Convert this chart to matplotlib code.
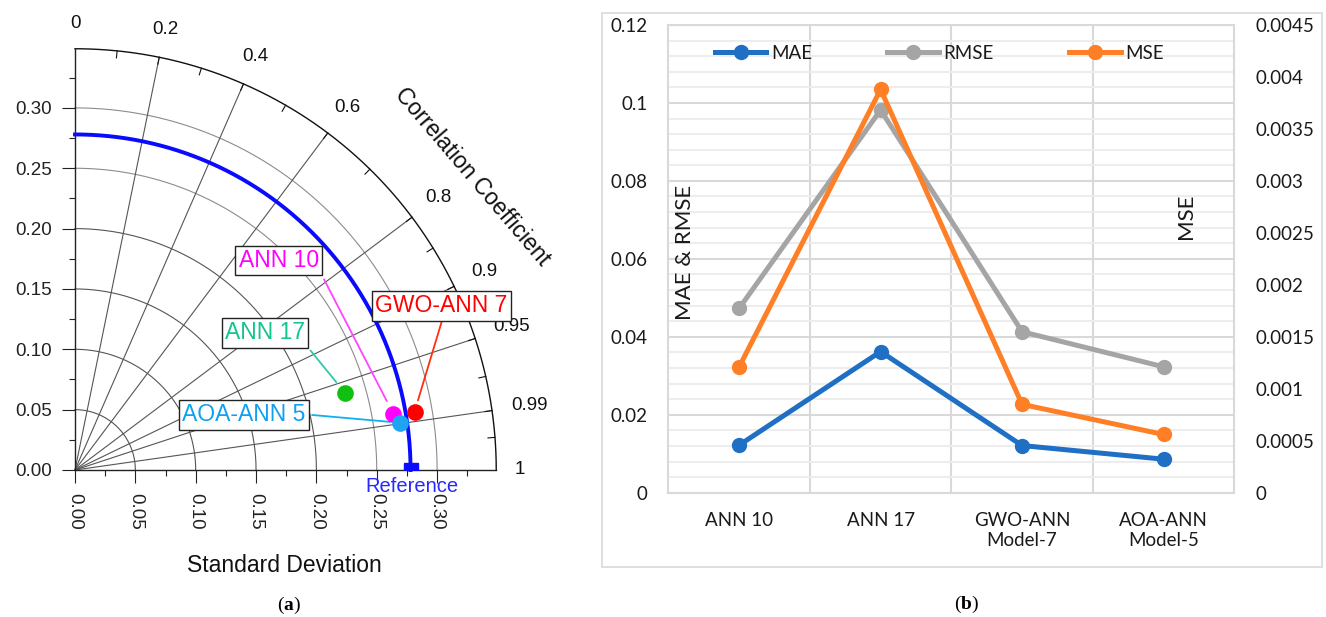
import numpy as np
import matplotlib
matplotlib.use('Agg')
import matplotlib.pyplot as plt
from matplotlib.patches import Rectangle
from matplotlib.ticker import MultipleLocator, FuncFormatter

# ---- data: Taylor diagram (a)
models = ['ANN 10', 'ANN 17', 'GWO-ANN 7', 'AOA-ANN 5']
model_std = [0.2679, 0.2329, 0.2854, 0.2721]
model_corr = [0.9849, 0.9622, 0.9856, 0.9896]
ref_std = 0.278
corr_labels = [0, 0.2, 0.4, 0.6, 0.8, 0.9, 0.95, 0.99, 1]
corr_grid = [0.2, 0.4, 0.6, 0.8, 0.9, 0.95, 0.99]
corr_minor = [0.1, 0.3, 0.5, 0.7, 0.85, 0.975, 0.997]
std_grid = [0.05, 0.10, 0.15, 0.20, 0.25, 0.30]

# ---- data: error metrics (b)
cats = ['ANN 10', 'ANN 17', 'GWO-ANN\nModel-7', 'AOA-ANN\nModel-5']
mae = [0.0122, 0.0362, 0.0121, 0.0086]
rmse = [0.0473, 0.0982, 0.0413, 0.0323]
mse = [0.00121, 0.00388, 0.00085, 0.00056]

W, H = 1326, 617
fig = plt.figure(figsize=(W / 100, H / 100), dpi=100)
plt.rcParams['mathtext.fontset'] = 'custom'
plt.rcParams['mathtext.bf'] = 'Liberation Serif:bold'


def px_box(x0, y0, w, h):
    # pixel box (top-left origin) -> figure fraction
    return [x0 / W, 1 - (y0 + h) / H, w / W, h / H]


# =================== (a) Taylor diagram ===================
SANS = 'Liberation Sans'
S = 1207.0          # pixels per std unit
R = 0.349           # outer radius
ox, oy = 75, 470    # origin in pixels
ax = fig.add_axes(px_box(ox, oy - R * S, R * S, R * S))
ax.set_xlim(0, R)
ax.set_ylim(0, R)
ax.patch.set_alpha(0)
for side in ['top', 'right']:
    ax.spines[side].set_visible(False)
for side in ['left', 'bottom']:
    ax.spines[side].set_linewidth(1.0)
    ax.spines[side].set_color('#222222')

ticks = np.arange(0, 0.301, 0.05)
ax.set_xticks(ticks)
ax.set_yticks(ticks)
ax.set_xticklabels([f'{t:.2f}' for t in ticks], rotation=-90, fontfamily=SANS)
ax.set_yticklabels([f'{t:.2f}' for t in ticks], fontfamily=SANS)
ax.xaxis.set_minor_locator(MultipleLocator(0.025))
ax.yaxis.set_minor_locator(MultipleLocator(0.025))
ax.tick_params(which='major', direction='out', length=9.5, width=0.8,
               labelsize=13.5, pad=7, colors='#222222')
ax.tick_params(which='minor', direction='out', length=4.5, width=0.8, colors='#222222')

theta = np.linspace(0, np.pi / 2, 300)
# std arcs
for s in std_grid:
    col = '#8c8c8c' if s > 0.22 else '#555555'
    ax.plot(s * np.cos(theta), s * np.sin(theta), color=col, lw=0.8, clip_on=False, zorder=1)
# correlation rays
for c in corr_grid:
    th = np.arccos(c)
    ax.plot([0, R * np.cos(th)], [0, R * np.sin(th)], color='#555555', lw=0.8,
            clip_on=False, zorder=1)
# outer arc
ax.plot(R * np.cos(theta), R * np.sin(theta), color='#111111', lw=1.0, clip_on=False, zorder=2)
# ticks on the outer arc
tl = 7 / S
for c in corr_grid + corr_minor:
    th = np.arccos(c)
    ax.plot([R * np.cos(th), (R - tl) * np.cos(th)], [R * np.sin(th), (R - tl) * np.sin(th)],
            color='#111111', lw=0.8, clip_on=False, zorder=2)
# correlation labels
for c in corr_labels:
    th = np.arccos(c)
    lab = f'{c:g}'
    wpx = 10.4 * sum(ch.isdigit() for ch in lab) + 5.2 * lab.count('.')
    ext = 0.5 * (wpx * abs(np.cos(th)) + 14 * abs(np.sin(th))) / S
    rr = 0.3645 + ext
    ax.text(rr * np.cos(th), rr * np.sin(th), lab, ha='center', va='center',
            fontsize=13.5, fontfamily=SANS, color='#111111', clip_on=False)

# reference std arc
ax.plot(ref_std * np.cos(theta), ref_std * np.sin(theta), color='#0a0aff', lw=2.8,
        clip_on=False, zorder=3)
ax.plot([ref_std], [0], marker='s', ms=9.5, color='#0a0aff', clip_on=True, zorder=4)
ax.text(ref_std + 0.0008, -0.0135, 'Reference', ha='center', va='center', fontsize=14.5,
        fontfamily=SANS, color='#2828ff', clip_on=False)

# model points
pt_colors = ['#ff00ff', '#10c010', '#ff0000', '#1ea4f0']
draw_order = [1, 0, 3, 2]
for i in draw_order:
    th = np.arccos(model_corr[i])
    ax.plot(model_std[i] * np.cos(th), model_std[i] * np.sin(th), 'o', ms=12,
            color=pt_colors[i], mec='none', clip_on=False, zorder=6)

# label boxes and leader lines: (box centre, leader start) in data units
label_layout = [((0.1690, 0.1736), (0.2063, 0.1580)),
                ((0.1574, 0.1138), (0.1951, 0.0990)),
                ((0.3036, 0.1359), (0.3038, 0.1229)),
                ((0.1398, 0.0456), (0.1964, 0.0456))]
text_colors = ['#ff00ff', '#12c48f', '#ff0000', '#10a0f0']
line_colors = ['#ff44ff', '#30c8a8', '#ff3010', '#10b0f0']
gaps = [10.5, 10.5, 8.5, 7.0]
for i, name in enumerate(models):
    (bx, by), (lx, ly) = label_layout[i]
    th = np.arccos(model_corr[i])
    px, py = model_std[i] * np.cos(th), model_std[i] * np.sin(th)
    ax.annotate('', xy=(px, py), xytext=(lx, ly), xycoords='data', textcoords='data',
                arrowprops=dict(arrowstyle='-', color=line_colors[i], lw=1.3,
                                shrinkA=0, shrinkB=gaps[i]), zorder=5,
                annotation_clip=False)
    ax.text(bx, by, name, ha='center', va='center', fontsize=16.5, fontfamily=SANS,
            color=text_colors[i], zorder=7, clip_on=False,
            bbox=dict(boxstyle='square,pad=0.15', fc='white', ec='#222222', lw=1.0))

fig.text(472 / W, 1 - 177 / H, 'Correlation Coefficient', rotation=-49.5,
         rotation_mode='anchor', ha='center', va='center', fontsize=16.5,
         fontfamily=SANS, color='#111111')
fig.text(284.5 / W, 1 - 565 / H, 'Standard Deviation', ha='center', va='center',
         fontsize=16.5, fontfamily=SANS, color='#111111')

# =================== (b) error metrics ===================
LATO = 'Lato'
TXT = '#1a1a1a'
fig.add_artist(Rectangle((601.5 / W, 1 - 566.5 / H), 720 / W, 554 / H, transform=fig.transFigure,
                         fill=False, ec='#d9d9d9', lw=1.2))
ax2 = fig.add_axes(px_box(668.4, 25, 565.9, 467.7))
x = np.arange(len(cats))
ax2.set_xlim(-0.5, len(cats) - 0.5)
ax2.set_ylim(0, 0.12)
ax2.set_axisbelow(True)
for sp in ax2.spines.values():
    sp.set_color('#d9d9d9')
    sp.set_linewidth(1.5)
ax2.yaxis.set_major_locator(MultipleLocator(0.02))
ax2.yaxis.set_minor_locator(MultipleLocator(0.004))
ax2.yaxis.set_major_formatter(FuncFormatter(lambda v, p: f'{v:g}'))
ax2.grid(axis='y', which='major', color='#d9d9d9', lw=1.5)
ax2.grid(axis='y', which='minor', color='#ededed', lw=1.5)
for b in np.arange(len(cats) - 1) + 0.5:
    ax2.axvline(b, color='#d9d9d9', lw=1.5, zorder=0.5)
ax2.set_xticks(x)
ax2.set_xticklabels(cats, fontfamily=LATO)
ax2.tick_params(axis='both', which='both', length=0, labelsize=13.5, colors=TXT)
ax2.tick_params(axis='y', pad=15)
ax2.tick_params(axis='x', pad=14)
for lab in ax2.get_yticklabels():
    lab.set_fontfamily(LATO)

l1, = ax2.plot(x, mae, color='#1f6fc5', lw=3.6, marker='o', ms=10, label='MAE', zorder=3)
l2, = ax2.plot(x, rmse, color='#a5a5a5', lw=3.6, marker='o', ms=10, label='RMSE', zorder=3)

ax3 = ax2.twinx()
ax3.set_ylim(0, 0.0045)
ax3.yaxis.set_major_locator(MultipleLocator(0.0005))
ax3.yaxis.set_major_formatter(FuncFormatter(lambda v, p: f'{v:g}'))
for sp in ax3.spines.values():
    sp.set_visible(False)
ax3.tick_params(axis='y', length=0, labelsize=13.5, colors=TXT, pad=15)
for lab in ax3.get_yticklabels():
    lab.set_fontfamily(LATO)
l3, = ax3.plot(x, mse, color='#ff7f27', lw=3.6, marker='o', ms=10, label='MSE', zorder=3)

ax3.legend(handles=[l1, l2, l3], loc='center', bbox_to_anchor=(0.479, 0.9395), ncol=3,
           frameon=False, handlelength=2.76, handletextpad=0.25, columnspacing=4.0,
           borderpad=0, prop={'family': LATO, 'size': 13.5}, labelcolor=TXT)

fig.text(685 / W, 1 - 252.5 / H, 'MAE & RMSE', rotation=90, ha='center', va='center',
         fontsize=16, fontfamily=LATO, color=TXT)
fig.text(1186 / W, 1 - 216.7 / H, 'MSE', rotation=90, ha='center', va='center',
         fontsize=16, fontfamily=LATO, color=TXT)

# panel captions
fig.text(289 / W, 1 - 605 / H, r'($\mathbf{a}$)', ha='center', va='center', fontsize=14,
         fontfamily='Liberation Serif')
fig.text(967 / W, 1 - 604 / H, r'($\mathbf{b}$)', ha='center', va='center', fontsize=14,
         fontfamily='Liberation Serif')

fig.savefig('out.png', dpi=100)
